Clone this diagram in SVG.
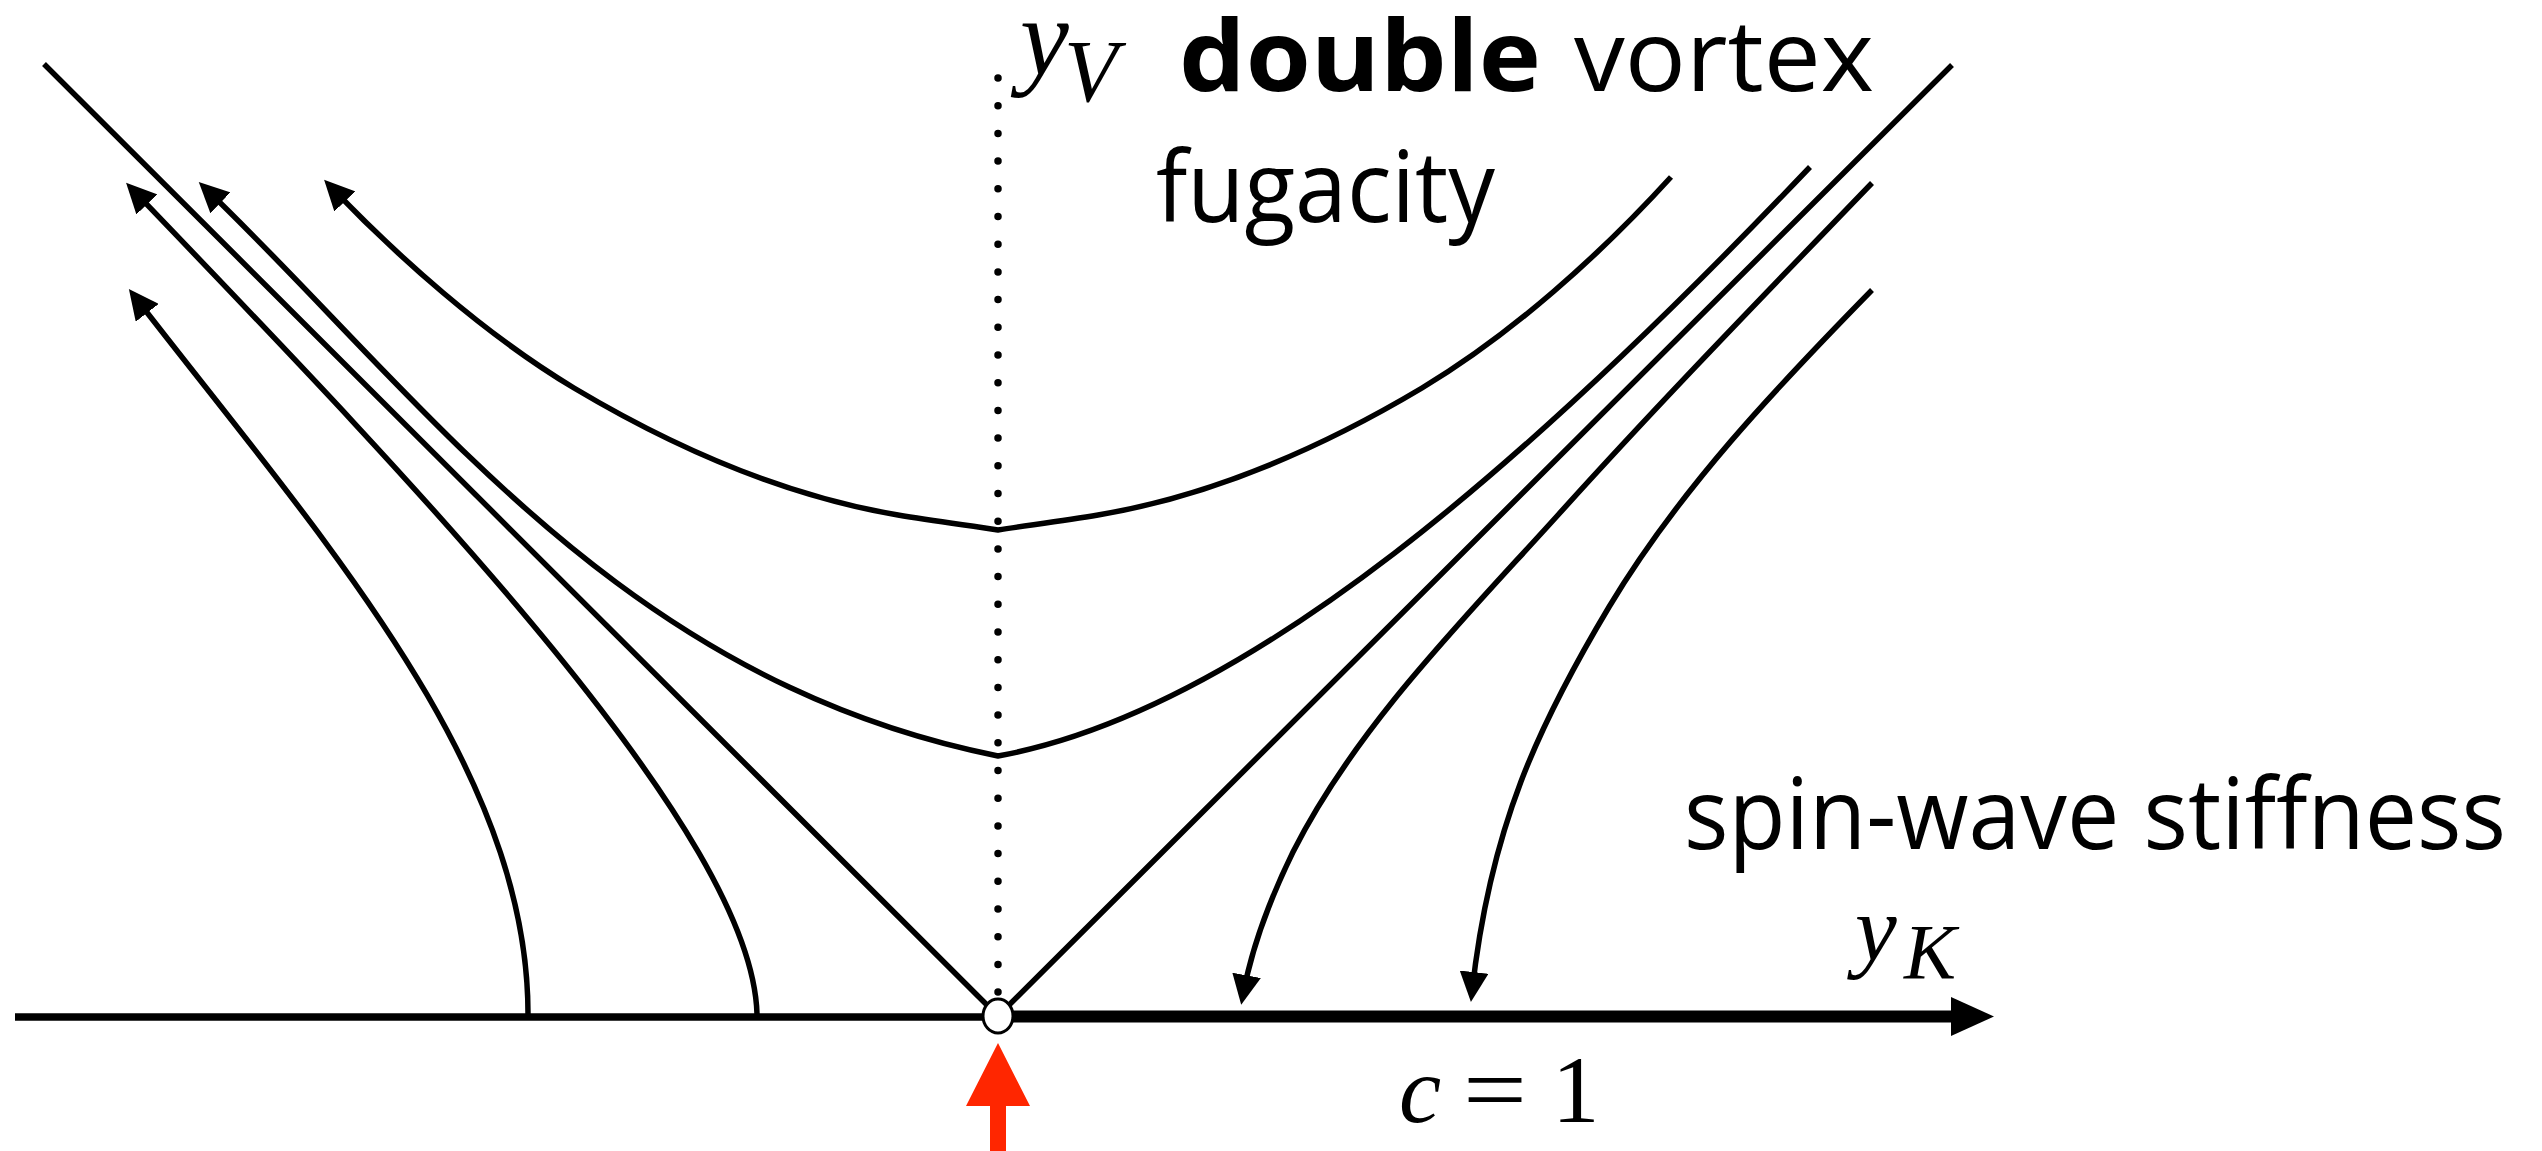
<svg xmlns="http://www.w3.org/2000/svg" width="2542" height="1151" viewBox="0 0 2542 1151">
<defs>
<style>
.flow{fill:none;stroke:#000;stroke-width:5.5;stroke-linecap:butt;stroke-linejoin:round}
.arr{marker-end:url(#ah)}
.lbl{font-family:"Open Sans","Noto Sans",sans-serif;font-size:98px;fill:#000}
.math{font-family:"Liberation Serif","Times New Roman",serif;font-style:italic;fill:#000}
.mathr{font-family:"Liberation Serif","Times New Roman",serif;fill:#000}
</style>
<marker id="ah" markerUnits="userSpaceOnUse" markerWidth="30" markerHeight="29" viewBox="0 0 30 29" refX="20" refY="14.5" orient="auto">
<path d="M0,0 L30,14.5 L0,29 Z" fill="#000"/>
</marker>
</defs>
<rect width="2542" height="1151" fill="#fff"/>

<g id="axes">
<line x1="998" y1="78" x2="998" y2="995" stroke="#000" stroke-width="7.5" stroke-linecap="round" stroke-dasharray="0 27.7"/>
<line x1="15" y1="1017" x2="998" y2="1017" stroke="#000" stroke-width="7.5"/>
<line x1="998" y1="1016.5" x2="1955" y2="1016.5" stroke="#000" stroke-width="12"/>
<polygon points="1951,997 1994,1016.5 1951,1036" fill="#000"/>
</g>

<g id="connectors">
<polyline class="flow" points="44,64 998,1016 1952,65"/>
<path id="flowD" class="flow arr" d="M528,1014 C528,764 318,534 135,297"/>
<path id="flowA" class="flow arr" d="M757,1014 C752,834 423,492 133,190"/>
<path id="flowLowerU" class="flow arr" d="M1810,167 C1534,457 1248,711 998,756 C618,680 422,396 206,189"/>
<path id="flowUpperU" class="flow arr" d="M1671,177 C1600,255 1512,334 1422,388 C1323,447 1211,496 1098,515 C1065,520.6 1031,525 998,530 C965,525 931,520.6 898,515 C785,496 673,447 574,388 C484,334 396,255 331,187"/>
<path id="flowDown1" class="flow arr" d="M1872,183 C1768,291 1658,404 1558,515 C1464,619 1356,727 1293,852 C1271,897 1252,946 1243,995"/>
<path id="flowDown2" class="flow arr" d="M1872,290 C1776,388 1679,490 1609,607 C1539,724 1490,827 1472,992"/>
</g>

<g id="fixed-point">
<ellipse cx="998" cy="1016" rx="15" ry="17" fill="#fff" stroke="#000" stroke-width="3"/>
</g>

<g id="marker-arrow">
<polygon points="998,1043 1030,1106 1006,1106 1006,1151 990,1151 990,1106 966,1106" fill="#ff2600"/>
</g>

<g id="label-yv">
<text class="math" x="1020" y="75" font-size="110">y</text>
<text class="math" x="1064" y="101" font-size="88">V</text>
</g>
<g id="label-double-vortex">
<text class="lbl" x="1179" y="91" font-weight="bold" textLength="362" lengthAdjust="spacingAndGlyphs">double</text>
<text class="lbl" x="1574" y="91" textLength="300" lengthAdjust="spacingAndGlyphs">vortex</text>
<text class="lbl" x="1156" y="222" textLength="339" lengthAdjust="spacingAndGlyphs">fugacity</text>
</g>
<g id="label-spinwave">
<text class="lbl" x="1684" y="849" textLength="822" lengthAdjust="spacingAndGlyphs">spin-wave stiffness</text>
</g>
<g id="label-yk">
<text class="math" x="1855" y="960" font-size="94">y</text>
<text class="math" x="1904" y="978" font-size="78">K</text>
</g>
<g id="label-c1">
<text class="math" x="1399" y="1122" font-size="95">c</text>
<text class="mathr" x="1463" y="1122" font-size="95" textLength="64" lengthAdjust="spacingAndGlyphs">=</text>
<text class="mathr" x="1552" y="1122" font-size="95">1</text>
</g>
</svg>
